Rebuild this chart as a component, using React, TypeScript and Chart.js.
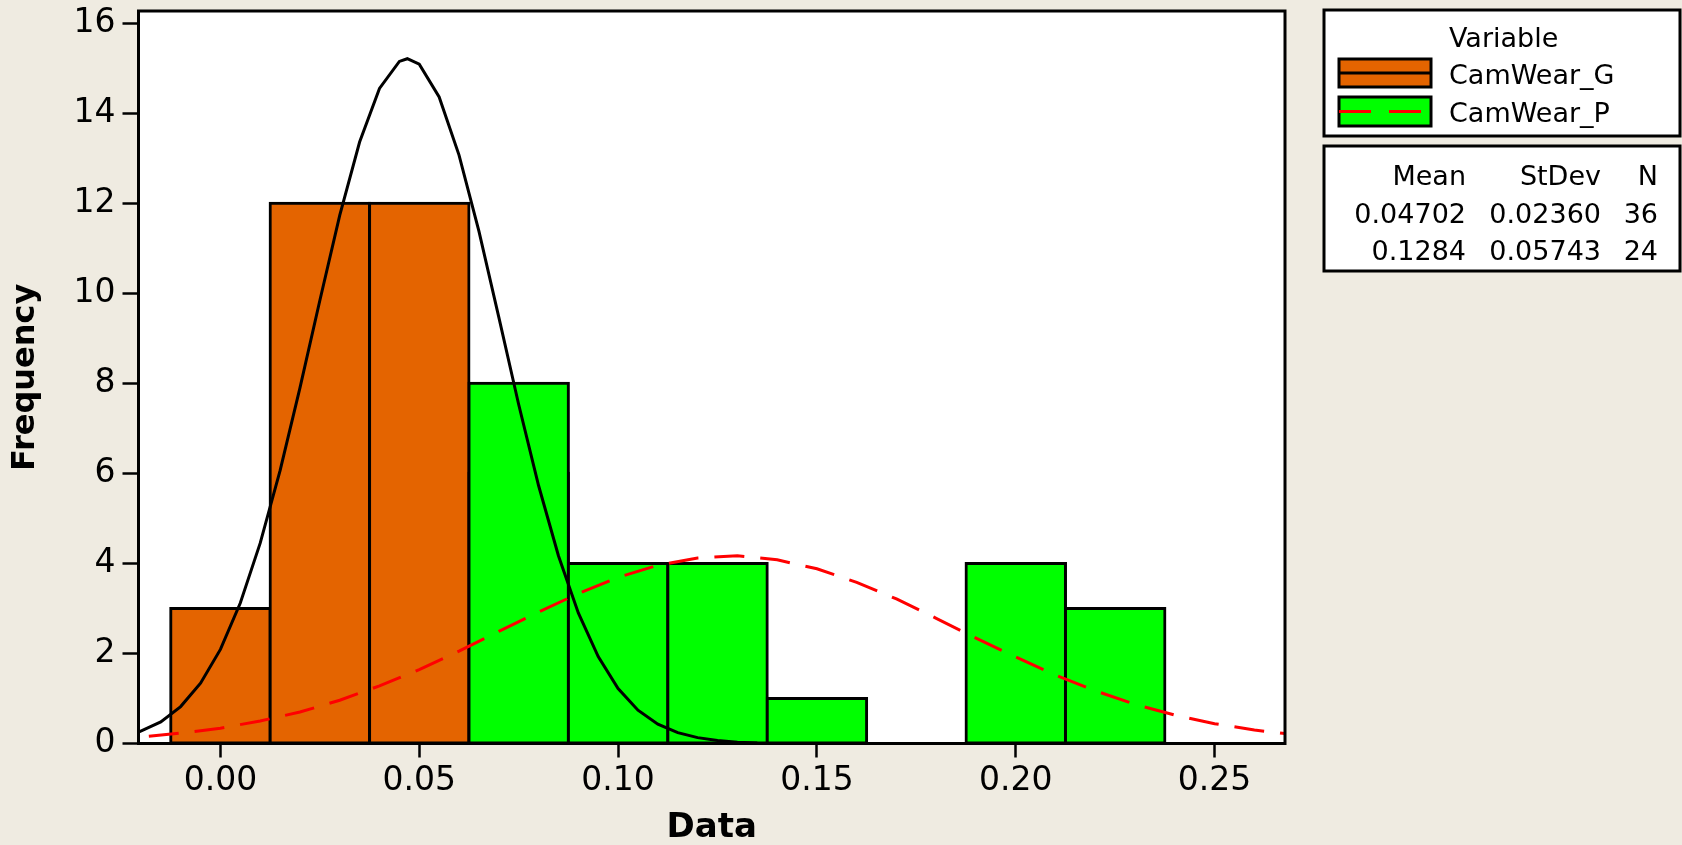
import React, { useEffect, useRef } from 'react';
import { Chart, registerables } from 'chart.js';

Chart.register(...registerables);

// ---- data ----
const gBins = [0, 0.025, 0.05, 0.075, 0.1];
const gCounts = [3, 12, 12, 6, 3];
const pBins = [0.075, 0.1, 0.125, 0.15, 0.175, 0.2, 0.225];
const pCounts = [8, 4, 4, 1, 0, 4, 3];

const gCurveX = [-0.0206, -0.015, -0.01, -0.005, 0, 0.005, 0.01, 0.015, 0.02, 0.025, 0.03, 0.035, 0.04, 0.045, 0.047, 0.05, 0.055, 0.06, 0.065, 0.07, 0.075, 0.08, 0.085, 0.09, 0.095, 0.1, 0.105, 0.11, 0.115, 0.12, 0.125, 0.13, 0.135];
const gCurveY = [0.25, 0.48, 0.82, 1.34, 2.09, 3.12, 4.45, 6.06, 7.9, 9.84, 11.73, 13.36, 14.55, 15.15, 15.21, 15.09, 14.36, 13.07, 11.38, 9.47, 7.53, 5.73, 4.17, 2.9, 1.93, 1.22, 0.74, 0.43, 0.24, 0.13, 0.065, 0.03, 0.01];

const pCurveX = [-0.018, -0.01, 0, 0.01, 0.02, 0.03, 0.04, 0.05, 0.06, 0.07, 0.08, 0.09, 0.1, 0.11, 0.12, 0.13, 0.14, 0.15, 0.16, 0.17, 0.18, 0.19, 0.2, 0.21, 0.22, 0.23, 0.24, 0.25, 0.26, 0.2677];
const pCurveY = [0.16, 0.23, 0.34, 0.5, 0.7, 0.96, 1.28, 1.64, 2.05, 2.49, 2.92, 3.33, 3.69, 3.96, 4.12, 4.17, 4.08, 3.88, 3.58, 3.21, 2.78, 2.34, 1.92, 1.52, 1.17, 0.87, 0.63, 0.44, 0.3, 0.22];

const seriesNames = ['CamWear_G', 'CamWear_P'];
const legendTitle = 'Variable';
const statsHeader = ['Mean', 'StDev', 'N'];
const statsRows = [
  ['0.04702', '0.02360', '36'],
  ['0.1284', '0.05743', '24'],
];
const xTitle = 'Data';
const yTitle = 'Frequency';

const BG = '#EFEBE1';
const ORANGE = '#E46400';
const GREEN = '#00FF00';
const RED = '#FF0000';
const FONT = "'DejaVu Sans'";

const decorPlugin = {
  id: 'decor',
  beforeDraw(chart: any) {
    const { ctx, chartArea: a, width, height } = chart;
    ctx.save();
    ctx.fillStyle = BG;
    ctx.fillRect(0, 0, width, height);
    ctx.fillStyle = '#FFFFFF';
    ctx.fillRect(a.left, a.top, a.right - a.left, a.bottom - a.top);
    ctx.restore();
  },
  afterDatasetsDraw(chart: any) {
    const { ctx, chartArea: a } = chart;
    ctx.save();
    ctx.strokeStyle = '#000';
    ctx.lineWidth = 3;
    ctx.strokeRect(a.left, a.top, a.right - a.left, a.bottom - a.top);
    ctx.restore();
  },
  afterDraw(chart: any) {
    const ctx = chart.ctx;
    ctx.save();
    // legend box
    ctx.fillStyle = '#FFFFFF';
    ctx.fillRect(1324, 10, 356, 126);
    ctx.strokeStyle = '#000';
    ctx.lineWidth = 3;
    ctx.strokeRect(1324, 10, 356, 126);
    ctx.font = `27px ${FONT}`;
    ctx.fillStyle = '#000';
    ctx.textAlign = 'left';
    ctx.textBaseline = 'alphabetic';
    ctx.fillText(legendTitle, 1449, 47);
    ctx.fillText(seriesNames[0], 1449, 84);
    ctx.fillText(seriesNames[1], 1449, 122);
    // swatch G
    ctx.fillStyle = ORANGE;
    ctx.fillRect(1339, 59, 92, 28);
    ctx.strokeRect(1339, 59, 92, 28);
    ctx.beginPath();
    ctx.moveTo(1339, 73);
    ctx.lineTo(1431, 73);
    ctx.stroke();
    // swatch P
    ctx.fillStyle = GREEN;
    ctx.fillRect(1339, 97, 92, 29);
    ctx.strokeRect(1339, 97, 92, 29);
    ctx.strokeStyle = RED;
    ctx.setLineDash([32, 18]);
    ctx.beginPath();
    ctx.moveTo(1339, 111.5);
    ctx.lineTo(1431, 111.5);
    ctx.stroke();
    ctx.setLineDash([]);
    // stats box
    ctx.strokeStyle = '#000';
    ctx.fillStyle = '#FFFFFF';
    ctx.fillRect(1324, 146, 356, 125);
    ctx.strokeRect(1324, 146, 356, 125);
    ctx.fillStyle = '#000';
    ctx.textAlign = 'right';
    const cols = [1466, 1601, 1658];
    const rows = [185, 223, 260];
    statsHeader.forEach((t, i) => ctx.fillText(t, cols[i], rows[0]));
    statsRows.forEach((r, j) => r.forEach((t, i) => ctx.fillText(t, cols[i], rows[j + 1])));
    ctx.restore();
  },
};

export default function App() {
  const ref = useRef<HTMLCanvasElement>(null);
  useEffect(() => {
    document.body.style.margin = '0';
    document.body.style.background = BG;
    const canvas = ref.current!;
    const chart = new Chart(canvas, {
      type: 'bar',
      data: {
        datasets: [
          {
            type: 'line',
            label: seriesNames[1] + ' fit',
            data: pCurveX.map((x, i) => ({ x, y: pCurveY[i] })),
            borderColor: RED,
            borderWidth: 3,
            borderDash: [30, 16],
            pointRadius: 0,
            fill: false,
            tension: 0,
            order: 0,
          } as any,
          {
            type: 'line',
            label: seriesNames[0] + ' fit',
            data: gCurveX.map((x, i) => ({ x, y: gCurveY[i] })),
            borderColor: '#000000',
            borderWidth: 3,
            pointRadius: 0,
            fill: false,
            tension: 0,
            order: 1,
          } as any,
          {
            type: 'bar',
            label: seriesNames[1],
            data: pBins.map((x, i) => ({ x, y: pCounts[i] })),
            backgroundColor: GREEN,
            borderColor: '#000000',
            borderWidth: 3,
            borderSkipped: false,
            inflateAmount: 1.5,
            grouped: false,
            barPercentage: 1,
            categoryPercentage: 1,
            order: 2,
          } as any,
          {
            type: 'bar',
            label: seriesNames[0],
            data: gBins.map((x, i) => ({ x, y: gCounts[i] })),
            backgroundColor: ORANGE,
            borderColor: '#000000',
            borderWidth: 3,
            borderSkipped: false,
            inflateAmount: 1.5,
            grouped: false,
            barPercentage: 1,
            categoryPercentage: 1,
            order: 3,
          } as any,
        ],
      },
      options: {
        responsive: false,
        animation: false,
        layout: { padding: { left: 0, right: 397, top: 11, bottom: 0 } },
        plugins: { legend: { display: false }, tooltip: { enabled: false } },
        scales: {
          x: {
            type: 'linear',
            offset: false,
            min: -0.0206,
            max: 0.2677,
            afterFit: (s: any) => {
              s.height = 101.5;
              s.paddingLeft = 0;
              s.paddingRight = 0;
            },
            ticks: {
              stepSize: 0.05,
              includeBounds: false,
              padding: 4,
              color: '#000',
              font: { family: FONT, size: 33 },
              maxRotation: 0,
              autoSkip: false,
              callback: (v: any) => Number(v).toFixed(2),
            },
            grid: { display: true, offset: false, drawOnChartArea: false, drawTicks: true, tickLength: 14, tickColor: '#000', tickWidth: 2.5 },
            border: { display: true, color: '#000', width: 3 },
            title: {
              display: true,
              text: xTitle,
              color: '#000',
              font: { family: FONT, size: 34, weight: 'bold', lineHeight: 1 },
              padding: { top: 0, bottom: 0 },
            },
          },
          y: {
            type: 'linear',
            min: 0,
            max: 16.27,
            afterFit: (s: any) => {
              s.width = 138.5;
              s.paddingTop = 0;
              s.paddingBottom = 0;
            },
            ticks: {
              stepSize: 2,
              includeBounds: false,
              padding: 7,
              color: '#000',
              font: { family: FONT, size: 33 },
              callback: (v: any) => String(v),
            },
            grid: { display: true, drawOnChartArea: false, drawTicks: true, tickLength: 16, tickColor: '#000', tickWidth: 2.5 },
            border: { display: true, color: '#000', width: 3 },
            title: {
              display: true,
              text: yTitle,
              color: '#000',
              font: { family: FONT, size: 32, weight: 'bold', lineHeight: 1 },
              padding: { top: 10, bottom: 0 },
            },
          },
        },
      },
      plugins: [decorPlugin],
    });
    return () => chart.destroy();
  }, []);
  return (
    <div style={{ position: 'fixed', left: 0, top: 0, width: 1682, height: 845, background: BG }}>
      <canvas ref={ref} width={1682} height={845} style={{ display: 'block' }} />
    </div>
  );
}
